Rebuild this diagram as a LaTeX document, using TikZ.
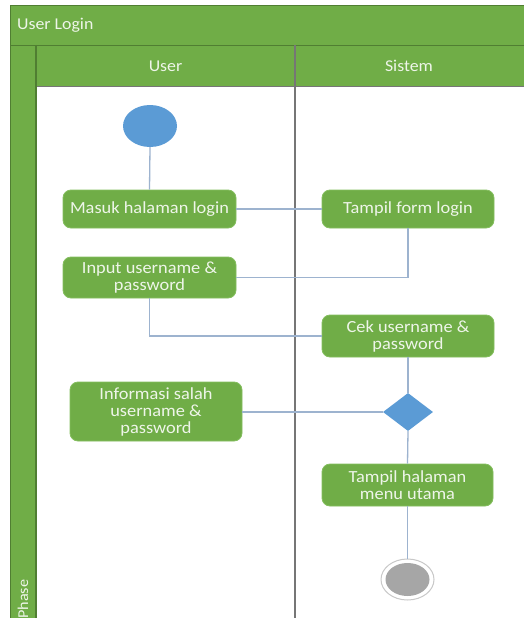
\documentclass[tikz,border=0pt]{standalone}
\usepackage{fontspec}
\setmainfont{Carlito}[FakeStretch=1.08]
\usetikzlibrary{shapes.geometric}
\definecolor{actgreen}{HTML}{70AD47}
\definecolor{actedge}{HTML}{84BE5E}
\definecolor{baredge}{HTML}{507E32}
\definecolor{laneline}{HTML}{767676}
\definecolor{flowline}{HTML}{9DB3CF}
\definecolor{startblue}{HTML}{5B9BD5}
\definecolor{endgrey}{HTML}{A6A6A6}
\definecolor{endring}{HTML}{C8C8C8}
\definecolor{labeltext}{HTML}{EEF5E9}

\begin{document}
\begin{tikzpicture}[x=1pt,y=-1pt,
  action/.style={rectangle, rounded corners=8pt, fill=actgreen, draw=actedge,
    line width=0.8pt, text=labeltext, align=center, inner sep=1pt,
    font=\fontsize{17}{17}\selectfont},
  flow/.style={draw=flowline, line width=1.3pt},
  bar/.style={fill=actgreen, draw=baredge, line width=0.9pt},
  headtext/.style={text=labeltext, inner sep=0pt, font=\fontsize{16.5}{17}\selectfont}]
\useasboundingbox (0,0) rectangle (524,618);

% swimlane frame
\fill[white] (0,0) rectangle (524,618);
\draw[bar] (10,5) rectangle (524.5,45);
\draw[bar] (10,45) rectangle (36,625);
\draw[bar] (36,45) rectangle (524.5,86);
\draw[laneline, line width=1pt] (36,86) rectangle (524.5,625);
\draw[laneline, line width=1.5pt] (295,45) -- (295,625);
\draw[baredge, line width=1.2pt] (36,45) -- (36,625);

\node[headtext, anchor=west] (title) at (17,25.5) {User Login};
\node[headtext] (laneuser) at (165.5,66) {User};
\node[headtext] (lanesys) at (409,66) {Sistem};
\node[headtext, rotate=90, anchor=west, font=\fontsize{15}{15}\selectfont] (phase) at (23,619) {Phase};

% activity nodes
\node[ellipse, fill=startblue, minimum width=54pt, minimum height=42pt, inner sep=0pt] (start) at (150,126) {};
\node[action, minimum width=173pt, minimum height=38pt] (masuk) at (149.5,209) {Masuk halaman login};
\node[action, minimum width=172pt, minimum height=38pt] (tampil) at (408,209) {Tampil form login};
\node[action, minimum width=173pt, minimum height=41pt] (input) at (149.5,277.5) {Input username \&\\password};
\node[action, minimum width=172pt, minimum height=42pt] (cek) at (408,336) {Cek username \&\\password};
\node[diamond, fill=startblue, minimum width=50pt, minimum height=38pt, inner sep=0pt] (choice) at (408,412) {};
\node[action, minimum width=172pt, minimum height=59pt] (info) at (156,411.5) {Informasi salah\\username \&\\password};
\node[action, minimum width=171pt, minimum height=42pt] (menu) at (407.5,485) {Tampil halaman\\menu utama};
\node[ellipse, fill=white, draw=endring, line width=1pt, minimum width=53pt, minimum height=41pt, inner sep=0pt] (finish) at (407.5,579.5) {};
\node[ellipse, fill=endgrey, minimum width=44pt, minimum height=33pt, inner sep=0pt] (finishdot) at (finish.center) {};

% control flow
\draw[flow] (start.south) -- (masuk.north);
\draw[flow] (masuk.east) -- (tampil.west);
\draw[flow] (tampil.south) |- (input.east);
\draw[flow] (input.south) |- (cek.west);
\draw[flow] (cek.south) -- (choice.north);
\draw[flow] (choice.west) -- (choice.west -| info.east);
\draw[flow] (choice.south) -- (menu.north);
\draw[flow] (menu.south) -- (finish.north);
\end{tikzpicture}
\end{document}
